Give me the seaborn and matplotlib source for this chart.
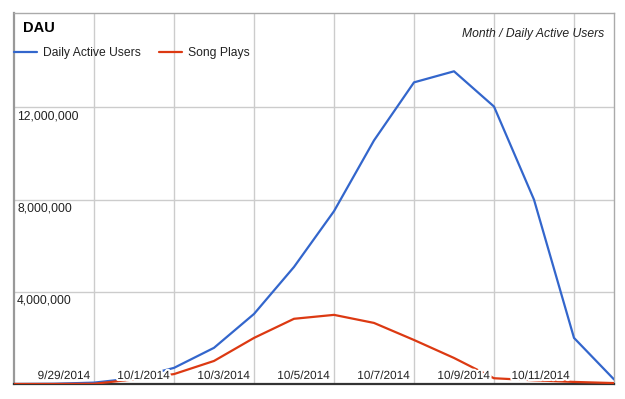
import numpy as np
import pandas as pd
import matplotlib
matplotlib.use("Agg")
import matplotlib.pyplot as plt
import matplotlib.patheffects as pe
import seaborn as sns

# data (one point per day)
dates = ["9/27/2014", "9/28/2014", "9/29/2014", "9/30/2014", "10/1/2014", "10/2/2014",
         "10/3/2014", "10/4/2014", "10/5/2014", "10/6/2014", "10/7/2014", "10/8/2014",
         "10/9/2014", "10/10/2014", "10/11/2014", "10/12/2014"]
daily_active_users = [0, 10000, 60000, 250000, 700000, 1570000, 3040000, 5080000, 7500000,
                      10570000, 13090000, 13570000, 12040000, 8000000, 2000000, 200000]
song_plays = [0, 0, 10000, 200000, 430000, 1000000, 2000000, 2830000, 3000000,
              2650000, 1910000, 1130000, 250000, 160000, 90000, 40000]
y_ticks = [4000000, 8000000, 12000000]
x_label_idx = [2, 4, 6, 8, 10, 12, 14]

blue = "#3366CC"
red = "#DC3912"

df = pd.DataFrame({"day": np.arange(len(dates)),
                   "Daily Active Users": daily_active_users,
                   "Song Plays": song_plays})
long = df.melt(id_vars="day", var_name="series", value_name="value")

sns.set_style("white")
plt.rcParams["font.family"] = ["Liberation Sans", "DejaVu Sans"]

fig = plt.figure(figsize=(6.25, 3.99), dpi=100)
ax = fig.add_axes([14 / 625, 15 / 399, 600 / 625, 371 / 399])

sns.lineplot(data=long, x="day", y="value", hue="series",
             palette={"Daily Active Users": blue, "Song Plays": red},
             linewidth=1.6, ax=ax, legend=False, zorder=3)

ax.set_xlim(0, len(dates) - 1)
ax.set_ylim(0, 16100000)
ax.set_xticks(x_label_idx)
ax.set_yticks(y_ticks)
ax.set_xticklabels([])
ax.set_yticklabels([])
ax.tick_params(length=0)
ax.set_xlabel("")
ax.set_ylabel("")
ax.grid(True, color="#cccccc", linewidth=1)
ax.set_axisbelow(True)

for side in ["top", "right"]:
    ax.spines[side].set_color("#aaaaaa")
    ax.spines[side].set_linewidth(1)
ax.spines["left"].set_color("#999999")
ax.spines["left"].set_linewidth(1.6)
ax.spines["bottom"].set_color("#333333")
ax.spines["bottom"].set_linewidth(1.6)

halo = [pe.withStroke(linewidth=3, foreground="white")]

# y labels inside the plot, just under their gridline
for v in y_ticks:
    ax.annotate(f"{v:,}", xy=(0, v), xycoords=("axes fraction", "data"),
                xytext=(3, -3), textcoords="offset pixels",
                ha="left", va="top", fontsize=8.7, color="#222222")

# x labels inside the plot, right aligned to their gridline
for i in x_label_idx:
    ax.annotate(dates[i], xy=(i, 0), xycoords="data",
                xytext=(-4, 5), textcoords="offset pixels",
                ha="right", va="baseline", fontsize=8.5, color="#222222",
                path_effects=halo, zorder=5)

ax.text(9 / 600, 1 - 19 / 371, "DAU", transform=ax.transAxes,
        fontsize=10.5, fontweight="bold", color="#000000", va="baseline")
ax.text(1 - 10 / 600, 1 - 24 / 371, "Month / Daily Active Users", transform=ax.transAxes,
        fontsize=8.7, style="italic", color="#222222", ha="right", va="baseline")

handles = [plt.Line2D([], [], color=blue, linewidth=1.6),
           plt.Line2D([], [], color=red, linewidth=1.6)]
leg = ax.legend(handles, ["Daily Active Users", "Song Plays"], ncol=2,
                loc="center left", bbox_to_anchor=(0, 1 - 40 / 371),
                frameon=False, fontsize=8.7, handlelength=1.9, handletextpad=0.5,
                columnspacing=1.5, borderpad=0, borderaxespad=0)
for t in leg.get_texts():
    t.set_color("#222222")

fig.savefig("out.png", dpi=100, facecolor="white")
